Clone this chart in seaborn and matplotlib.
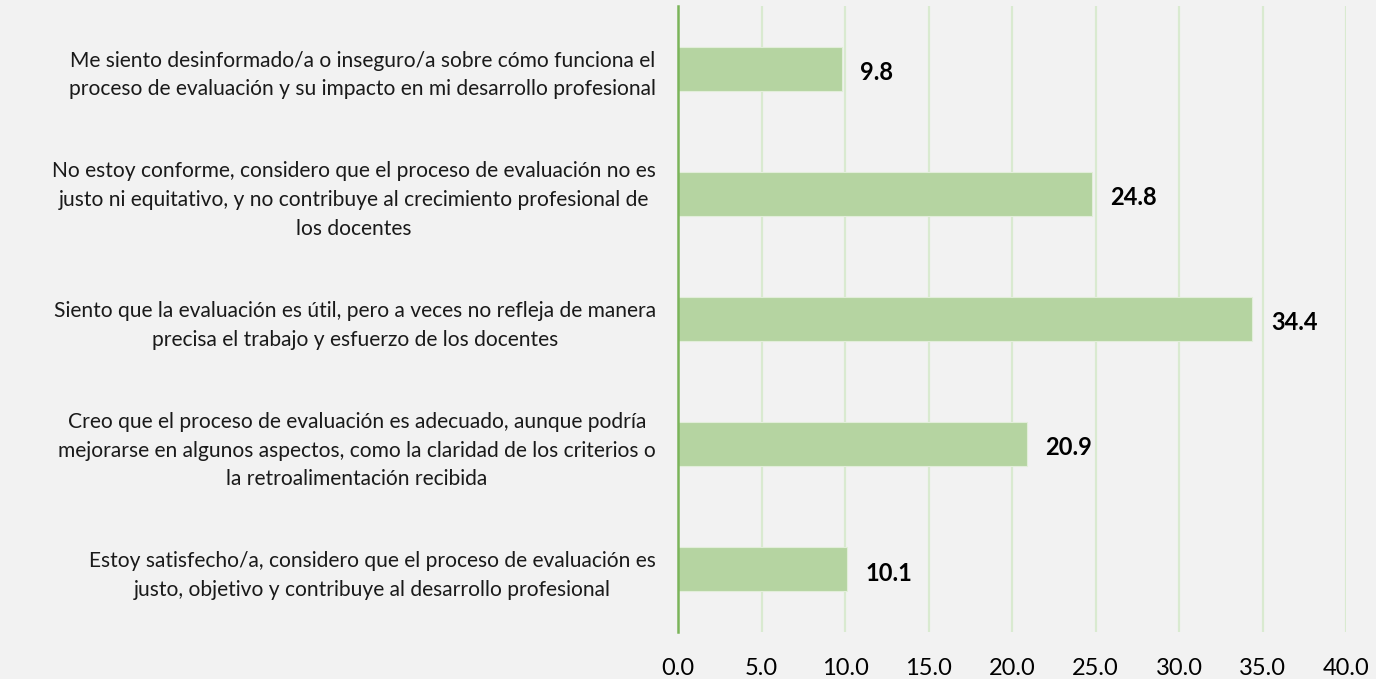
import matplotlib
matplotlib.use("Agg")
import matplotlib.pyplot as plt
import seaborn as sns
import pandas as pd

categories = [
    "Me siento desinformado/a o inseguro/a sobre cómo funciona el\nproceso de evaluación y su impacto en mi desarrollo profesional",
    "No estoy conforme, considero que el proceso de evaluación no es\njusto ni equitativo, y no contribuye al crecimiento profesional de\nlos docentes",
    "Siento que la evaluación es útil, pero a veces no refleja de manera\nprecisa el trabajo y esfuerzo de los docentes",
    "Creo que el proceso de evaluación es adecuado, aunque podría\nmejorarse en algunos aspectos, como la claridad de los criterios o\nla retroalimentación recibida",
    "Estoy satisfecho/a, considero que el proceso de evaluación es\njusto, objetivo y contribuye al desarrollo profesional",
]
values = [9.8, 24.8, 34.4, 20.9, 10.1]
xticks = [0, 5, 10, 15, 20, 25, 30, 35, 40]

df = pd.DataFrame({"cat": categories, "val": values})

sns.set_theme(style="white")
plt.rcParams["font.family"] = ["Lato", "DejaVu Sans"]

BG = "#F2F2F2"
fig = plt.figure(figsize=(13.76, 6.79), dpi=100, facecolor=BG)
ax = fig.add_axes([678/1376, 1-632/679, (1346-678)/1376, (632-6)/679])
ax.set_facecolor(BG)

sns.barplot(data=df, x="val", y="cat", orient="h", color="#B5D4A1",
            width=0.35, ax=ax, saturation=1, edgecolor="#E2EEDA", linewidth=0.8)

ax.set_xlim(0, 40)
ax.set_ylim(4.5, -0.5)
ax.set_xticks(xticks)
ax.set_xticklabels([f"{t:.1f}" for t in xticks], fontsize=17, color="#000000")
ax.tick_params(axis="x", length=0, pad=19)
ax.tick_params(axis="y", length=0, pad=16)
for lab in ax.get_yticklabels():
    lab.set_fontsize(15.1)
    lab.set_multialignment("center")
    lab.set_linespacing(1.55)
    lab.set_color("#1a1a1a")
ax.set_xlabel("")
ax.set_ylabel("")

for x in xticks[1:]:
    ax.axvline(x, color="#D9EAD0", lw=1.6, zorder=0)
ax.set_axisbelow(True)
for s in ["top", "right", "bottom"]:
    ax.spines[s].set_visible(False)
ax.spines["left"].set_color("#7BB45A")
ax.spines["left"].set_linewidth(1.8)

for i, v in enumerate(values):
    ax.text(v + 1.1, i + 0.03, f"{v:.1f}", va="center", ha="left",
            fontsize=17, fontweight="bold", color="#000000")

fig.savefig("out.png", dpi=100, facecolor=BG)
